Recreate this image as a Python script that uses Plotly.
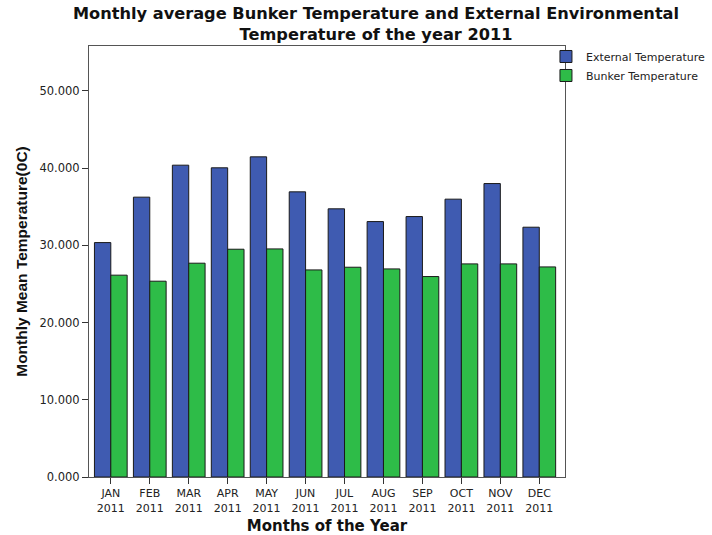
import plotly.graph_objects as go

months = ["JAN", "FEB", "MAR", "APR", "MAY", "JUN", "JUL", "AUG", "SEP", "OCT", "NOV", "DEC"]
year = "2011"
external = [30.35, 36.23, 40.37, 40.03, 41.45, 36.92, 34.72, 33.07, 33.72, 35.97, 37.99, 32.34]
bunker = [26.13, 25.35, 27.68, 29.49, 29.53, 26.81, 27.16, 26.94, 25.95, 27.59, 27.59, 27.20]
y_ticks = [0, 10, 20, 30, 40, 50]

xpos = list(range(len(months)))
ticktext = [f"{m}<br>{year}" for m in months]

fig = go.Figure()
fig.add_trace(go.Bar(x=xpos, y=external, name="External Temperature",
                     marker=dict(color="#3F5BB1", line=dict(color="#1a1a1a", width=1))))
fig.add_trace(go.Bar(x=xpos, y=bunker, name="Bunker Temperature",
                     marker=dict(color="#2EBC48", line=dict(color="#1a1a1a", width=1))))

wide = "DejaVu Sans, Verdana, sans-serif"
arial = "Liberation Sans, Arial, sans-serif"
fig.update_layout(
    width=712, height=535,
    margin=dict(l=89, r=147, t=46, b=58, autoexpand=False),
    paper_bgcolor="white", plot_bgcolor="white",
    barmode="group", bargap=0.16, bargroupgap=0,
    font=dict(family=wide, size=11, color="#222"),
    showlegend=True,
    legend=dict(x=0.960, y=1.0093, xanchor="left", yanchor="top",
                font=dict(size=11, color="#222", family=wide), tracegroupgap=0,
                itemwidth=30, bgcolor="rgba(0,0,0,0)"),
    annotations=[
        dict(text="<b>Monthly average Bunker Temperature and External Environmental<br>Temperature of the year 2011</b>",
             xref="paper", yref="paper", x=0.603, y=1.0522, yanchor="middle", xanchor="center",
             showarrow=False, font=dict(size=16.2, color="#111", family=wide)),
    ],
)
fig.update_xaxes(
    range=[-0.56, 11.66], tickvals=xpos, ticktext=ticktext,
    ticks="outside", ticklen=6, tickcolor="#333",
    showline=True, linecolor="#555", linewidth=1, mirror=True,
    showgrid=False, zeroline=False, tickfont=dict(size=11, color="#222", family=wide),
    title=dict(text="<b>Months of the Year</b>", font=dict(size=15, color="#111", family=wide), standoff=6),
)
fig.update_yaxes(
    range=[0, 55.8], tickvals=y_ticks, ticktext=[f"{v:.3f}" for v in y_ticks],
    ticks="outside", ticklen=6, tickcolor="#333",
    showline=True, linecolor="#555", linewidth=1, mirror=True,
    showgrid=False, zeroline=False, tickfont=dict(size=11.5, color="#222", family=wide),
    title=dict(text="<b>Monthly Mean Temperature(0C)</b>", font=dict(size=15.5, color="#111", family=arial), standoff=8),
)
# remove the default 8px page margin so the 712x535 figure fills the window exactly
fig.write_html("out.html", config={"displayModeBar": False},
               post_script="document.body.style.margin='0';")
